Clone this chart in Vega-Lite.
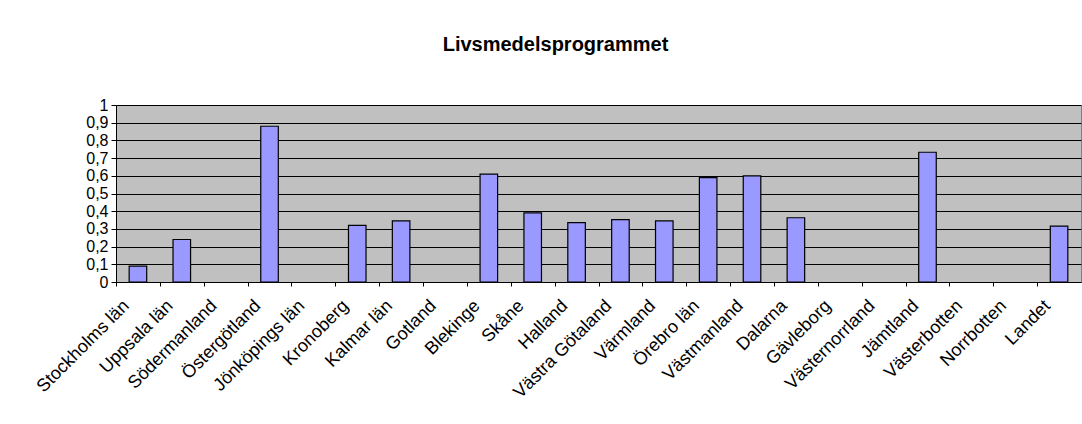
{
  "$schema": "https://vega.github.io/schema/vega-lite/v6.json",
  "width": 965,
  "height": 177,
  "autosize": {"type": "none"},
  "padding": {"left": 116, "top": 105, "right": 1, "bottom": 142},
  "title": {
    "text": "Livsmedelsprogrammet",
    "font": "Liberation Sans",
    "fontSize": 20,
    "fontWeight": "bold",
    "color": "#000000",
    "anchor": "middle",
    "frame": "group",
    "dx": -43,
    "baseline": "alphabetic",
    "offset": 26
  },
  "data": {
    "values": [
      {"region": "Stockholms län", "value": 0.09},
      {"region": "Uppsala län", "value": 0.24},
      {"region": "Södermanland", "value": null},
      {"region": "Östergötland", "value": 0.88},
      {"region": "Jönköpings län", "value": null},
      {"region": "Kronoberg", "value": 0.32},
      {"region": "Kalmar län", "value": 0.345},
      {"region": "Gotland", "value": null},
      {"region": "Blekinge", "value": 0.61},
      {"region": "Skåne", "value": 0.39},
      {"region": "Halland", "value": 0.335},
      {"region": "Västra Götaland", "value": 0.352},
      {"region": "Värmland", "value": 0.345},
      {"region": "Örebro län", "value": 0.59},
      {"region": "Västmanland", "value": 0.60},
      {"region": "Dalarna", "value": 0.363},
      {"region": "Gävleborg", "value": null},
      {"region": "Västernorrland", "value": null},
      {"region": "Jämtland", "value": 0.733},
      {"region": "Västerbotten", "value": null},
      {"region": "Norrbotten", "value": null},
      {"region": "Landet", "value": 0.316}
    ]
  },
  "mark": {"type": "bar", "fill": "#9999FF", "stroke": "#000000", "strokeWidth": 1.2},
  "encoding": {
    "x": {
      "field": "region",
      "type": "nominal",
      "scale": {
        "domain": ["Stockholms län", "Uppsala län", "Södermanland", "Östergötland", "Jönköpings län", "Kronoberg", "Kalmar län", "Gotland", "Blekinge", "Skåne", "Halland", "Västra Götaland", "Värmland", "Örebro län", "Västmanland", "Dalarna", "Gävleborg", "Västernorrland", "Jämtland", "Västerbotten", "Norrbotten", "Landet"],
        "paddingInner": 0.6,
        "paddingOuter": 0.3
      },
      "axis": {
        "title": null,
        "labelAngle": -45,
        "labelAlign": "right",
        "labelBaseline": "middle",
        "labelFont": "Liberation Sans",
        "labelFontSize": 18,
        "labelColor": "#000000",
        "labelPadding": 17,
        "labelOffset": 10,
        "tickOffset": -21.93,
        "ticks": true,
        "tickSize": 4,
        "tickColor": "#000000",
        "domainColor": "#000000",
        "grid": false,
        "labelOverlap": false
      }
    },
    "y": {
      "field": "value",
      "type": "quantitative",
      "scale": {"domain": [0, 1], "nice": false},
      "axis": {
        "title": null,
        "values": [0, 0.1, 0.2, 0.3, 0.4, 0.5, 0.6, 0.7, 0.8, 0.9, 1],
        "labelExpr": "replace(format(datum.value, '.1~f'), '.', ',')",
        "labelFont": "Liberation Sans",
        "labelFontSize": 16,
        "labelColor": "#000000",
        "labelPadding": 3,
        "tickSize": 5,
        "tickColor": "#000000",
        "domainColor": "#000000",
        "grid": true,
        "gridColor": "#000000",
        "gridWidth": 1,
        "labelOverlap": false
      }
    }
  },
  "config": {
    "view": {"fill": "#C0C0C0", "stroke": "#808080", "strokeWidth": 1},
    "background": "#FFFFFF"
  }
}
